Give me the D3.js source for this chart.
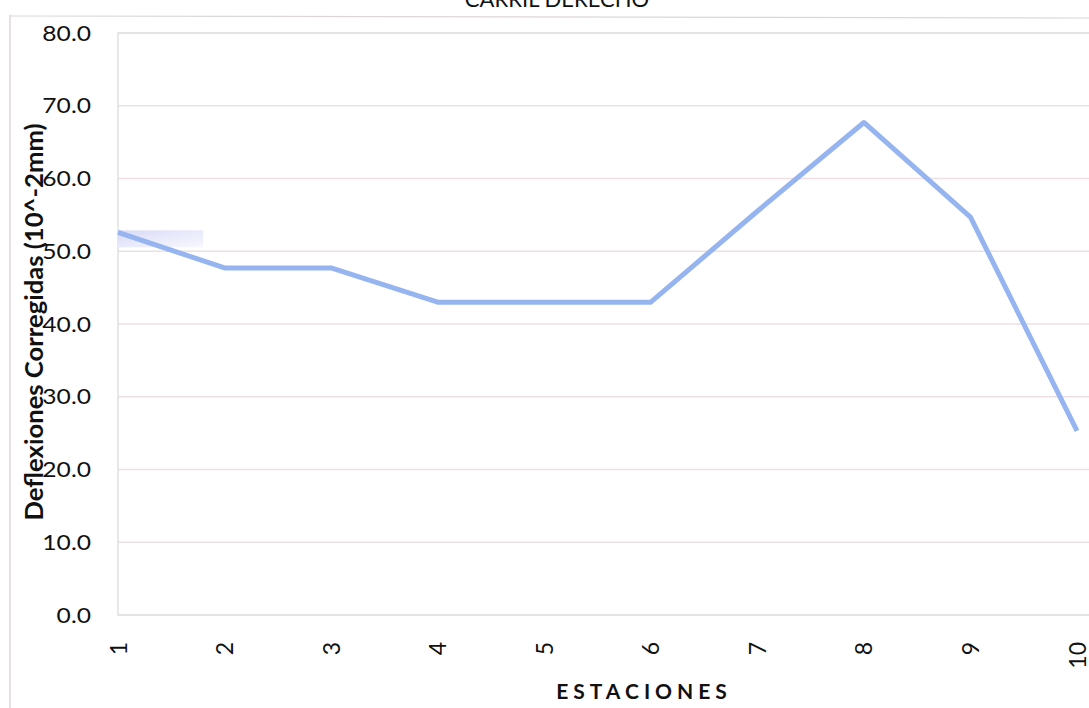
<!DOCTYPE html>
<html>
<head>
<meta charset="utf-8">
<script src="https://cdn.jsdelivr.net/npm/d3@7"></script>
<style>
  html, body { margin: 0; padding: 0; background: #fff; }
  svg { display: block; }
  text { font-family: Lato, "Open Sans", sans-serif; fill: #111; }
</style>
</head>
<body>
<script>
// Deflexiones corregidas por estación – carril derecho
const estaciones = ["1", "2", "3", "4", "5", "6", "7", "8", "9", "10"];
const deflexiones = [52.6, 47.7, 47.7, 43.0, 43.0, 43.0, 55.5, 67.7, 54.7, 25.3];
const yTicks = [0, 10, 20, 30, 40, 50, 60, 70, 80];
const titulo = "CARRIL DERECHO";
const tituloEjeY = "Deflexiones Corregidas (10^-2mm)";
const tituloEjeX = "ESTACIONES";

const W = 1089, H = 708;
const plot = { left: 118, right: 1077, top: 33, bottom: 615 };

const svg = d3.select("body").append("svg")
  .attr("width", W).attr("height", H);

const x = d3.scalePoint().domain(estaciones).range([plot.left, plot.right]);
const y = d3.scaleLinear().domain([0, 80]).range([plot.bottom, plot.top]);

// outer chart frame
svg.append("line").attr("x1", 10).attr("x2", 10).attr("y1", 15).attr("y2", H)
  .attr("stroke", "#d8cbd2").attr("stroke-width", 1.2);
svg.append("line").attr("x1", 10).attr("x2", W).attr("y1", 16).attr("y2", 18)
  .attr("stroke", "#dcd6da").attr("stroke-width", 1.2);

// title (sits at the very top edge of the page)
svg.append("text").attr("x", 557).attr("y", 7)
  .attr("text-anchor", "middle").attr("font-size", 22)
  .text(titulo);

// horizontal gridlines
svg.append("g").selectAll("line")
  .data(yTicks.filter(d => d > 0 && d < 80))
  .join("line")
  .attr("x1", plot.left).attr("x2", W)
  .attr("y1", d => y(d)).attr("y2", d => y(d))
  .attr("stroke", "#eedfe4").attr("stroke-width", 1.3);

// plot area border
svg.append("path")
  .attr("d", `M${W},${y(80)}H${plot.left}V${y(0)}H${W}`)
  .attr("fill", "none").attr("stroke", "#dcdcdc").attr("stroke-width", 1.3);

// y axis labels
const yAxis = d3.axisLeft(y).tickValues(yTicks).tickFormat(d3.format(".1f")).tickSize(0).tickPadding(0);
const gy = svg.append("g").attr("transform", `translate(91,0)`).call(yAxis);
gy.select(".domain").remove();
gy.selectAll("text").attr("font-size", 22).attr("fill", "#111")
  .attr("font-family", "Lato, sans-serif")
  .attr("transform", "scale(1.12,1)");

// x axis labels, rotated
const xAxis = d3.axisBottom(x).tickSize(0).tickPadding(0);
const gx = svg.append("g").attr("transform", `translate(0,${plot.bottom})`).call(xAxis);
gx.select(".domain").remove();
gx.selectAll("text")
  .attr("font-size", 23).attr("fill", "#111")
  .attr("font-family", "Lato, sans-serif")
  .attr("text-anchor", "end")
  .attr("dy", null).attr("y", 0)
  .attr("transform", "translate(8,27) rotate(-90)");

// small shaded box next to the first station
const grad = svg.append("defs").append("linearGradient").attr("id", "caja")
  .attr("x1", 0).attr("y1", 0).attr("x2", 1).attr("y2", 1);
grad.append("stop").attr("offset", 0).attr("stop-color", "#d9dbf7");
grad.append("stop").attr("offset", 1).attr("stop-color", "#f8f8fe");
svg.append("rect")
  .attr("x", x(estaciones[0])).attr("y", y(deflexiones[0]) - 2)
  .attr("width", (x(estaciones[1]) - x(estaciones[0])) * 0.8).attr("height", 17)
  .attr("fill", "url(#caja)");

// data line
const line = d3.line().x((d, i) => x(estaciones[i])).y(d => y(d));
svg.append("path").datum(deflexiones)
  .attr("d", line)
  .attr("fill", "none")
  .attr("stroke", "#96b4f0")
  .attr("stroke-width", 5)
  .attr("stroke-linejoin", "round");

// axis titles
svg.append("text")
  .attr("transform", `translate(43,322) rotate(-90)`)
  .attr("text-anchor", "middle")
  .attr("font-size", 24).attr("font-weight", "bold")
  .attr("textLength", 397).attr("lengthAdjust", "spacingAndGlyphs")
  .text(tituloEjeY);

svg.append("text")
  .attr("x", 644).attr("y", 699)
  .attr("text-anchor", "middle")
  .attr("font-size", 21).attr("font-weight", "bold")
  .attr("letter-spacing", "5px")
  .text(tituloEjeX);
</script>
</body>
</html>
